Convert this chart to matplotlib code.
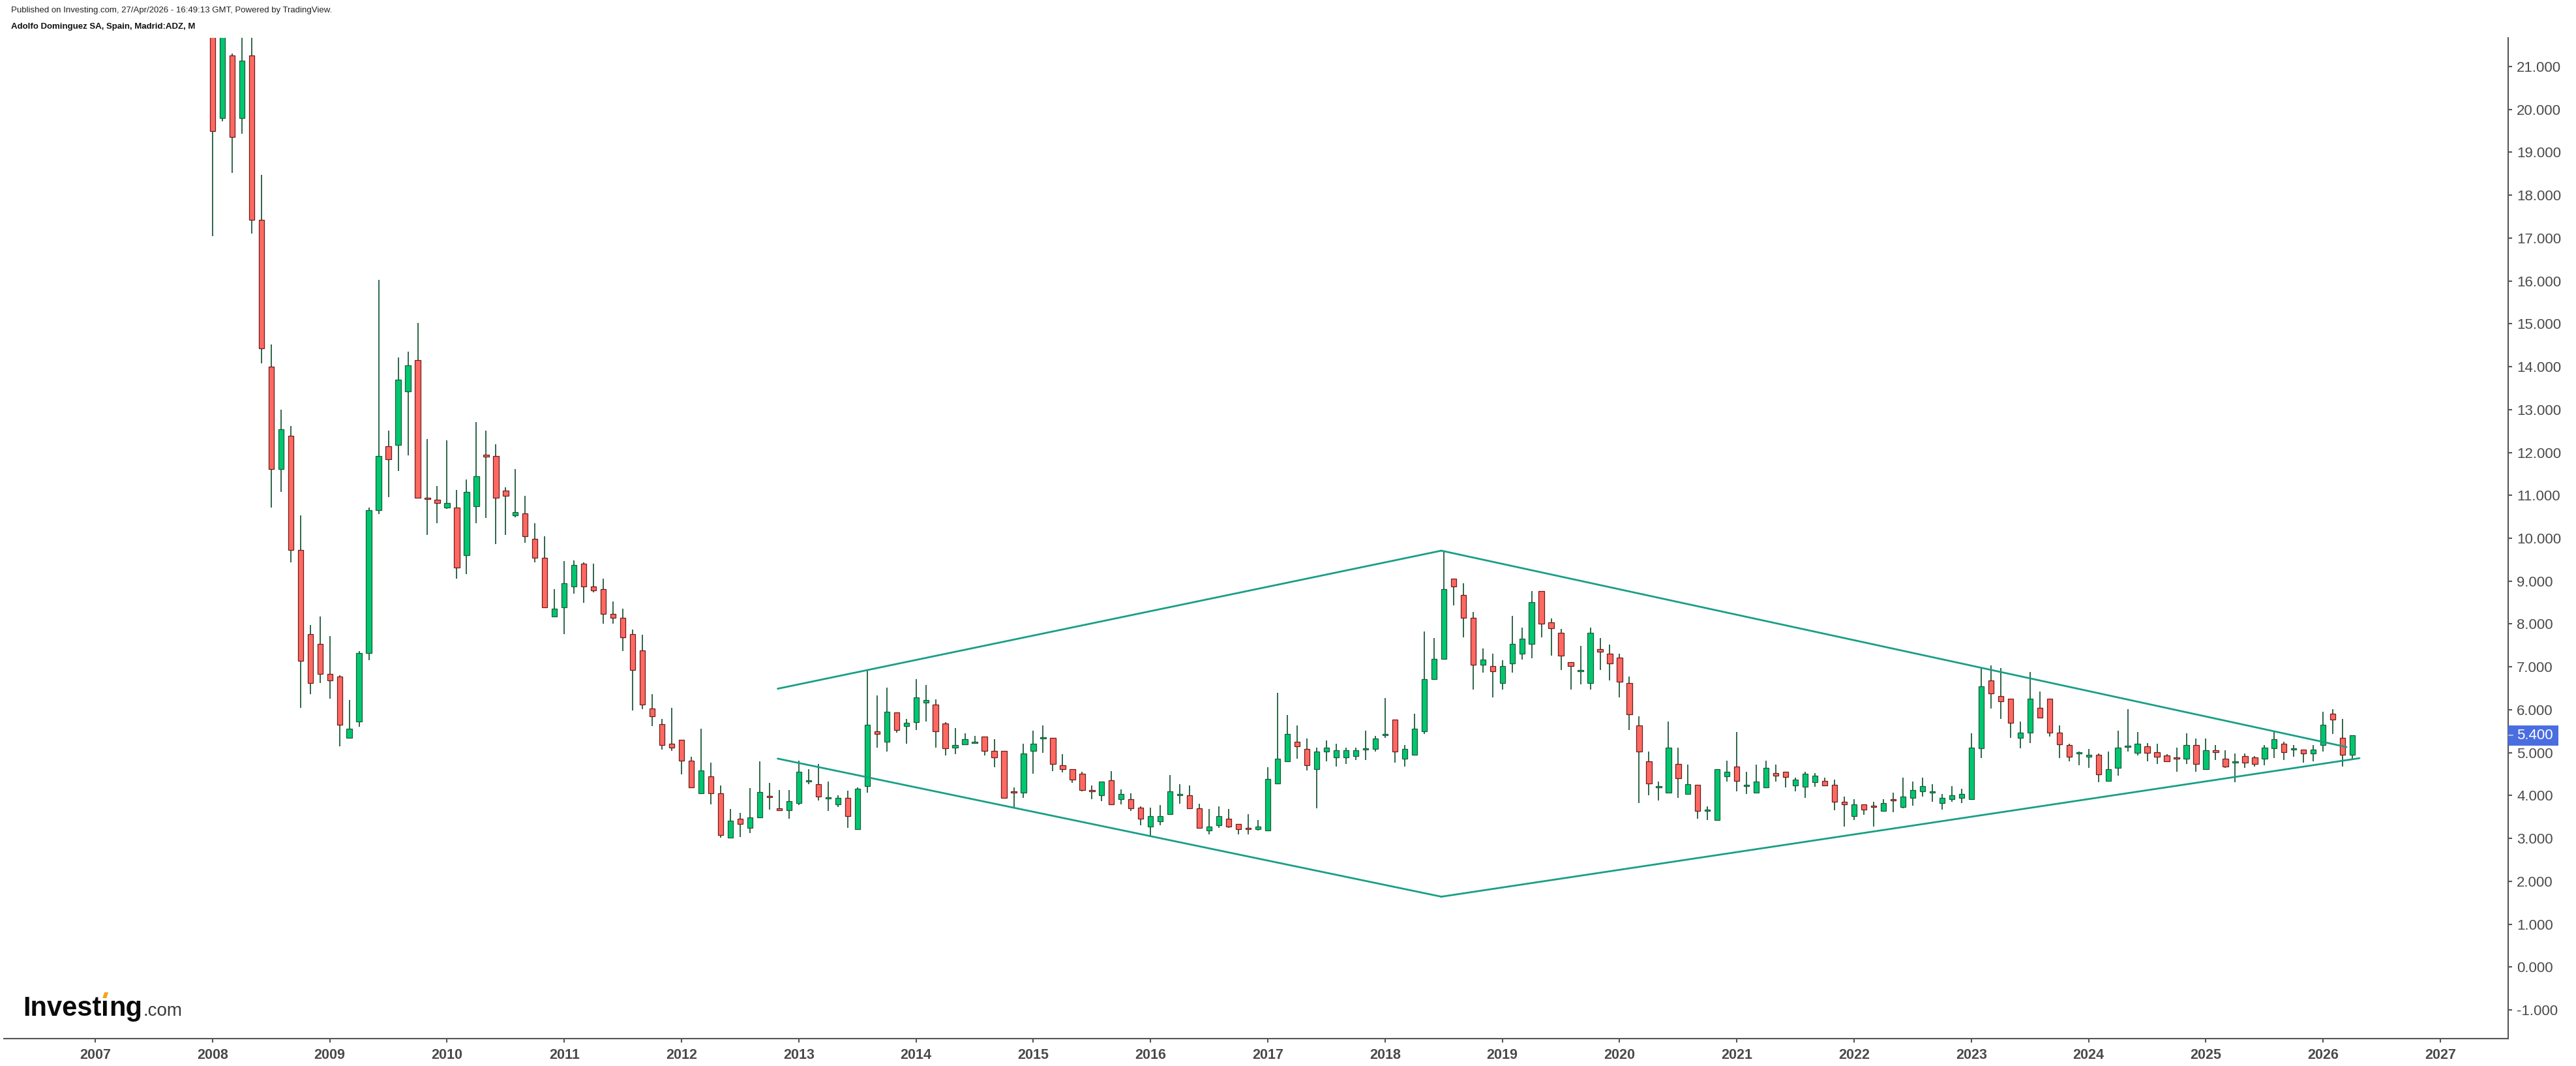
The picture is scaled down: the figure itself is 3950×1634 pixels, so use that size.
import matplotlib
matplotlib.use("Agg")
import matplotlib.pyplot as plt
from matplotlib.patches import Rectangle, Polygon
from matplotlib.lines import Line2D
from matplotlib.transforms import IdentityTransform

plt.rcParams['font.family'] = ['Liberation Sans', 'DejaVu Sans']

# monthly candles, Jan 2008 .. Apr 2026 (one row per year)
start_year = 2008
opens = [
    23.50, 19.80, 21.26, 19.80, 21.26, 17.43, 14.00, 11.62, 12.39, 9.72, 7.77, 7.53,
    6.83, 6.77, 5.35, 5.73, 7.32, 10.66, 12.14, 12.18, 13.43, 14.16, 10.94, 10.90,
    10.72, 10.72, 9.60, 10.75, 11.94, 11.91, 11.11, 10.53, 10.58, 9.98, 9.55, 8.17,
    8.38, 8.87, 9.40, 8.87, 8.81, 8.24, 8.14, 7.77, 7.38, 6.03, 5.66, 5.20,
    5.30, 4.81, 4.05, 4.44, 4.05, 3.01, 3.46, 3.25, 3.49, 3.99, 3.70, 3.66,
    3.83, 4.33, 4.26, 3.93, 3.79, 3.95, 3.22, 4.22, 5.50, 5.25, 5.93, 5.62,
    5.71, 6.16, 6.12, 5.68, 5.11, 5.19, 5.22, 5.38, 5.04, 5.04, 4.10, 4.06,
    5.04, 5.33, 5.35, 4.71, 4.62, 4.50, 4.10, 4.01, 4.35, 3.92, 3.92, 3.71,
    3.27, 3.40, 3.56, 4.00, 4.01, 3.70, 3.19, 3.30, 3.46, 3.34, 3.23, 3.22,
    3.19, 4.28, 4.80, 5.26, 5.08, 4.61, 5.02, 4.89, 4.89, 4.92, 5.07, 5.08,
    5.41, 5.77, 4.86, 4.95, 5.50, 6.72, 7.18, 9.06, 8.67, 8.15, 7.05, 7.02,
    6.62, 7.08, 7.30, 7.54, 8.76, 8.03, 7.79, 7.11, 6.90, 6.62, 7.42, 7.30,
    7.21, 6.62, 5.63, 4.80, 4.19, 4.07, 4.74, 4.04, 4.25, 3.64, 3.43, 4.44,
    4.68, 4.22, 4.07, 4.19, 4.52, 4.56, 4.24, 4.21, 4.31, 4.34, 4.25, 3.85,
    3.52, 3.79, 3.76, 3.64, 3.92, 3.73, 3.95, 4.09, 4.06, 3.82, 3.91, 3.94,
    3.91, 5.10, 6.69, 6.32, 6.26, 5.35, 5.47, 6.05, 6.26, 5.47, 5.17, 4.98,
    4.90, 4.95, 4.34, 4.64, 5.13, 5.00, 5.14, 5.01, 4.93, 4.89, 4.85, 5.17,
    4.61, 5.05, 4.86, 4.77, 4.92, 4.89, 4.85, 5.10, 5.20, 5.07, 5.07, 4.98,
    5.17, 5.90, 5.35, 4.95,
]
highs = [
    24.50, 22.80, 21.30, 22.20, 22.00, 18.47, 14.52, 13.00, 12.61, 10.54, 7.98, 8.17,
    7.72, 6.80, 6.23, 7.37, 10.72, 16.02, 12.51, 14.22, 14.35, 15.02, 12.31, 11.21,
    12.28, 11.13, 11.37, 12.71, 12.51, 12.19, 11.19, 11.61, 10.99, 10.35, 10.05, 8.82,
    9.46, 9.49, 9.43, 9.40, 9.06, 8.52, 8.36, 7.87, 7.75, 6.37, 5.79, 6.04,
    5.30, 4.90, 5.56, 4.76, 4.23, 3.69, 3.59, 4.17, 4.79, 4.30, 4.12, 4.12,
    4.81, 4.61, 4.73, 4.32, 4.01, 4.11, 4.19, 6.92, 6.33, 6.51, 5.93, 5.78,
    6.72, 6.57, 6.24, 5.71, 5.57, 5.45, 5.39, 5.38, 5.32, 5.04, 4.19, 5.20,
    5.51, 5.63, 5.35, 4.96, 4.62, 4.56, 4.23, 4.32, 4.57, 4.14, 4.05, 3.74,
    3.71, 3.78, 4.48, 4.26, 4.23, 3.80, 3.68, 3.74, 3.68, 3.34, 3.56, 3.43,
    4.66, 6.40, 5.88, 5.63, 5.33, 5.11, 5.29, 5.20, 5.11, 5.11, 5.51, 5.39,
    6.27, 5.77, 5.17, 5.90, 7.82, 7.67, 9.71, 9.06, 8.95, 8.28, 7.43, 7.30,
    7.15, 8.19, 7.91, 8.76, 8.76, 8.13, 7.88, 7.11, 7.49, 7.91, 7.67, 7.52,
    7.30, 6.78, 5.84, 5.02, 4.32, 5.73, 5.11, 4.72, 4.25, 3.74, 4.62, 4.81,
    5.48, 4.56, 4.72, 4.81, 4.72, 4.56, 4.41, 4.56, 4.53, 4.41, 4.37, 3.98,
    3.92, 3.79, 3.85, 3.92, 4.07, 4.41, 4.32, 4.41, 4.26, 4.04, 4.22, 4.16,
    5.45, 6.97, 7.03, 6.97, 6.26, 5.73, 6.88, 6.43, 6.26, 5.63, 5.20, 5.02,
    5.08, 4.98, 5.02, 5.51, 6.02, 5.48, 5.23, 5.20, 4.96, 5.11, 5.45, 5.33,
    5.33, 5.17, 5.05, 4.98, 4.98, 4.92, 5.17, 5.48, 5.26, 5.17, 5.07, 5.17,
    5.96, 6.02, 5.78, 5.41,
]
lows = [
    17.04, 19.73, 18.52, 19.43, 17.10, 14.08, 10.72, 11.08, 9.43, 6.04, 6.37, 6.62,
    6.26, 5.15, 5.35, 5.60, 7.15, 10.56, 10.96, 11.57, 11.93, 10.94, 10.07, 10.35,
    10.68, 9.05, 9.17, 10.35, 10.47, 9.86, 10.07, 10.49, 9.90, 9.44, 8.38, 8.17,
    7.77, 8.71, 8.50, 8.74, 8.01, 8.01, 7.37, 5.99, 6.02, 5.62, 5.07, 5.04,
    4.49, 4.19, 4.05, 3.79, 3.01, 3.01, 3.03, 3.13, 3.49, 3.67, 3.66, 3.45,
    3.77, 4.26, 3.89, 3.64, 3.73, 3.24, 3.22, 4.06, 5.12, 5.03, 5.46, 5.21,
    5.52, 5.73, 5.12, 4.94, 4.97, 5.19, 5.22, 4.94, 4.66, 3.95, 3.70, 3.94,
    4.51, 5.00, 4.57, 4.54, 4.30, 4.09, 3.91, 3.87, 3.79, 3.79, 3.64, 3.30,
    3.06, 3.30, 3.56, 3.81, 3.70, 3.25, 3.09, 3.25, 3.25, 3.09, 3.09, 3.19,
    3.19, 4.28, 4.80, 4.85, 4.58, 3.70, 4.80, 4.67, 4.74, 4.83, 4.83, 5.02,
    5.34, 4.77, 4.67, 4.95, 5.43, 6.72, 7.18, 8.44, 7.68, 6.47, 6.86, 6.28,
    6.47, 6.87, 7.17, 7.20, 7.68, 7.26, 6.92, 6.47, 6.59, 6.47, 6.92, 6.68,
    6.28, 5.52, 3.82, 4.00, 3.88, 4.07, 3.94, 4.04, 3.45, 3.42, 3.43, 4.32,
    4.10, 4.04, 4.07, 4.19, 4.33, 4.19, 4.10, 3.94, 4.21, 4.24, 3.66, 3.27,
    3.42, 3.55, 3.27, 3.64, 3.61, 3.70, 3.76, 3.98, 3.85, 3.67, 3.85, 3.82,
    3.91, 4.88, 6.03, 5.79, 5.34, 5.10, 5.22, 5.81, 5.37, 4.88, 4.79, 4.70,
    4.64, 4.31, 4.34, 4.46, 5.03, 4.94, 4.79, 4.73, 4.80, 4.55, 4.73, 4.55,
    4.61, 4.82, 4.64, 4.31, 4.64, 4.67, 4.70, 4.88, 4.82, 4.91, 4.76, 4.79,
    5.03, 5.43, 4.67, 4.82,
]
closes = [
    19.49, 22.30, 19.35, 21.14, 17.43, 14.42, 11.62, 12.54, 9.72, 7.14, 6.62, 6.83,
    6.68, 5.65, 5.56, 7.32, 10.66, 11.91, 11.84, 13.70, 14.03, 10.94, 10.92, 10.82,
    10.82, 9.32, 11.08, 11.45, 11.90, 10.94, 10.99, 10.61, 10.04, 9.55, 8.38, 8.35,
    8.95, 9.37, 8.87, 8.78, 8.24, 8.14, 7.68, 6.92, 6.12, 5.85, 5.18, 5.12,
    4.81, 4.19, 4.59, 4.05, 3.07, 3.41, 3.34, 3.49, 4.08, 3.96, 3.66, 3.87,
    4.56, 4.36, 3.98, 3.95, 3.95, 3.52, 4.16, 5.65, 5.44, 5.96, 5.53, 5.69,
    6.29, 6.23, 5.49, 5.10, 5.17, 5.31, 5.23, 5.04, 4.89, 3.95, 4.07, 4.98,
    5.20, 5.35, 4.73, 4.62, 4.37, 4.13, 4.09, 4.32, 3.79, 4.04, 3.70, 3.46,
    3.52, 3.52, 4.10, 4.01, 3.70, 3.25, 3.28, 3.52, 3.28, 3.22, 3.22, 3.28,
    4.38, 4.86, 5.44, 5.14, 4.71, 5.02, 5.11, 5.05, 5.05, 5.05, 5.08, 5.33,
    5.43, 5.02, 5.08, 5.56, 6.72, 7.18, 8.82, 8.88, 8.15, 7.05, 7.17, 6.90,
    7.02, 7.54, 7.66, 8.51, 8.00, 7.90, 7.26, 7.02, 6.91, 7.79, 7.36, 7.08,
    6.65, 5.89, 5.02, 4.28, 4.20, 5.11, 4.40, 4.26, 3.64, 3.67, 4.62, 4.56,
    4.34, 4.24, 4.32, 4.65, 4.46, 4.43, 4.37, 4.50, 4.46, 4.24, 3.85, 3.79,
    3.79, 3.67, 3.73, 3.82, 3.89, 3.98, 4.13, 4.22, 4.08, 3.95, 4.01, 4.04,
    5.11, 6.54, 6.38, 6.20, 5.70, 5.47, 6.26, 5.81, 5.47, 5.19, 4.91, 5.00,
    4.95, 4.49, 4.62, 5.11, 5.14, 5.20, 5.00, 4.91, 4.80, 4.86, 5.17, 4.73,
    5.05, 5.01, 4.67, 4.80, 4.77, 4.74, 5.11, 5.32, 5.01, 5.08, 4.98, 5.07,
    5.65, 5.77, 4.95, 5.40,
]

# drawn trend lines (diamond pattern): start/end in decimal years and price
line_x0 = [2012.82, 2012.82, 2018.48, 2018.48]
line_y0 = [6.49, 4.86, 9.71, 1.64]
line_x1 = [2018.48, 2018.48, 2026.20, 2026.31]
line_y1 = [9.71, 1.64, 5.13, 4.87]

years = list(range(2007, 2028))
price_ticks = list(range(-1, 22))

W, H = 3950, 1634
fig = plt.figure(figsize=(W / 100, H / 100), dpi=100)
fig.patch.set_facecolor('white')
ax = fig.add_axes([6 / W, 1 - 1592 / H, (3846 - 6) / W, (1592 - 58) / H])

up_fill, up_edge = '#00c770', '#1d5a3a'
dn_fill, dn_edge = '#ff6961', '#6b1c1c'
wick_col = '#1d5a3a'

xs = [start_year + i / 12 for i in range(len(closes))]
ax.vlines(xs, lows, highs, color=wick_col, linewidth=1.3, zorder=2)
for x, o, c in zip(xs, opens, closes):
    up = c >= o
    ax.bar(x, max(abs(c - o), 0.03), bottom=min(o, c), width=0.046,
           color=up_fill if up else dn_fill, edgecolor=up_edge if up else dn_edge,
           linewidth=0.9, zorder=3)

for x0, y0, x1, y1 in zip(line_x0, line_y0, line_x1, line_y1):
    ax.plot([x0, x1], [y0, y1], color='#189f86', linewidth=2.0, zorder=4,
            solid_capstyle='round')

ax.set_xlim(2006.221, 2027.578)
ax.set_ylim(-1.67, 21.67)

axis_col = '#555555'
for s in ['left', 'top']:
    ax.spines[s].set_visible(False)
for s in ['bottom', 'right']:
    ax.spines[s].set_color(axis_col)
    ax.spines[s].set_linewidth(1.5)

ax.yaxis.tick_right()
ax.set_yticks(price_ticks)
ax.set_yticklabels([f"{v:.3f}" for v in price_ticks])
ax.set_xticks(years)
ax.set_xticklabels([str(y) for y in years], fontweight='bold')
ax.tick_params(axis='y', direction='out', length=4.5, width=1.5, color=axis_col,
               labelsize=16, labelcolor='#4a4a4a', pad=5)
ax.tick_params(axis='x', direction='out', length=4.5, width=1.5, color=axis_col,
               labelsize=15.5, labelcolor='#4a4a4a', pad=6)

# header
fig.text(17 / W, 1 - 16 / H, "Published on Investing.com, 27/Apr/2026 - 16:49:13 GMT, Powered by TradingView.",
         fontsize=9.5, color='#222222', va='center', ha='left')
fig.text(17 / W, 1 - 41 / H, "Adolfo Dominguez SA, Spain, Madrid:ADZ, M",
         fontsize=9.5, fontweight='bold', color='#111111', va='center', ha='left')

# last price label
fig.canvas.draw()
r = fig.canvas.get_renderer()
yc = ax.transData.transform((2020, closes[-1]))[1]
fig.add_artist(Rectangle((3846, yc - 15.5), 77, 31, facecolor='#4a6ee0',
                         edgecolor='none', transform=IdentityTransform()))
fig.add_artist(Line2D([3847, 3853], [yc, yc], color='#c9d3f5', linewidth=1.2,
                      transform=IdentityTransform()))
fig.text(3859, yc, f"{closes[-1]:.3f}", color='white', fontsize=16, ha='left',
         va='center', transform=IdentityTransform())

# Investing.com logo
base = H - 1557
x = 35
dot_bb = None
pieces = [("Invest", dict(fontsize=30, fontweight='bold', color='#0a0a0a')),
          ("\u0131", dict(fontsize=30, fontweight='bold', color='#0a0a0a')),
          ("ng", dict(fontsize=30, fontweight='bold', color='#0a0a0a')),
          (".com", dict(fontsize=20, color='#3a3a3a'))]
for s, kw in pieces:
    t = fig.text(x, base, s, va='baseline', ha='left', transform=IdentityTransform(), **kw)
    bb = t.get_window_extent(r)
    if s == "\u0131":
        dot_bb = bb
    x = bb.x1 + (1 if s == "ng" else 0)
cx = (dot_bb.x0 + dot_bb.x1) / 2
fig.add_artist(Polygon([(cx - 4, base + 27), (cx + 2, base + 27), (cx + 5, base + 36), (cx - 1, base + 36)],
                       closed=True, facecolor='#f5a31a', edgecolor='none', transform=IdentityTransform()))

fig.savefig('out.png', dpi=100, facecolor='white')
